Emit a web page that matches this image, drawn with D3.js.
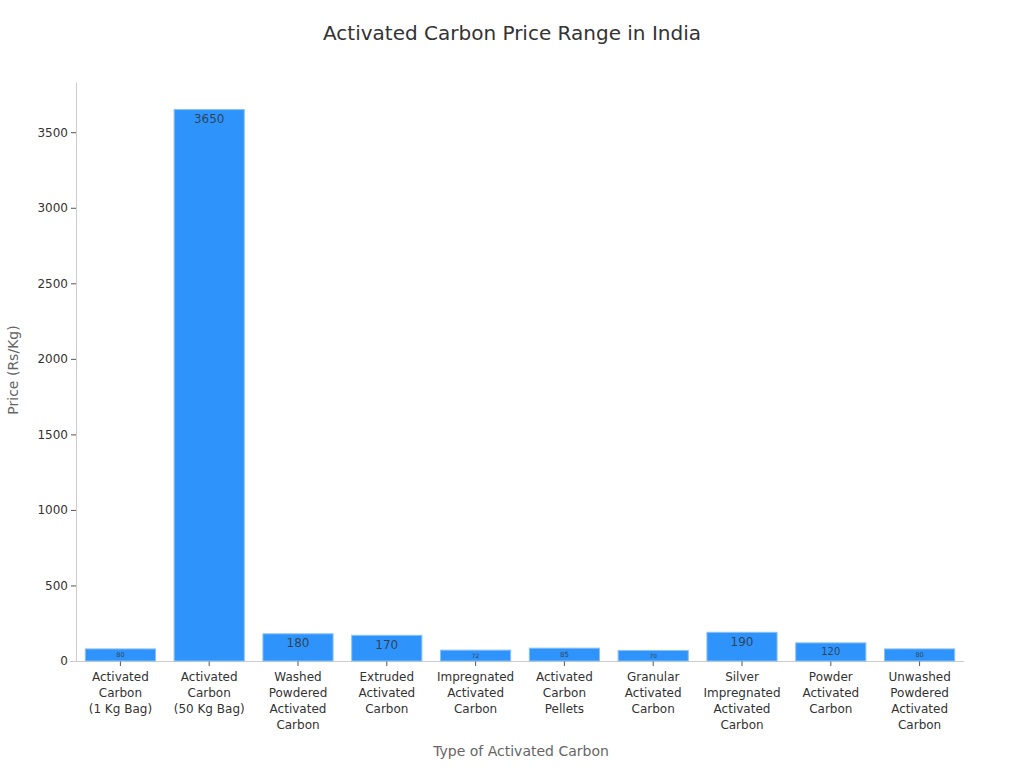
<!DOCTYPE html>
<html><head><meta charset="utf-8">
<script src="https://cdn.jsdelivr.net/npm/d3@7"></script>
<style>body{margin:0;background:#fff;font-family:"DejaVu Sans",sans-serif;}</style>
</head><body>
<svg id="c" width="1024" height="768"></svg>
<script>
const categories = ["Activated Carbon (1 Kg Bag)","Activated Carbon (50 Kg Bag)","Washed Powdered Activated Carbon","Extruded Activated Carbon","Impregnated Activated Carbon","Activated Carbon Pellets","Granular Activated Carbon","Silver Impregnated Activated Carbon","Powder Activated Carbon","Unwashed Powdered Activated Carbon"];
const labelLines = [["Activated","Carbon","(1 Kg Bag)"],["Activated","Carbon","(50 Kg Bag)"],["Washed","Powdered","Activated","Carbon"],["Extruded","Activated","Carbon"],["Impregnated","Activated","Carbon"],["Activated","Carbon","Pellets"],["Granular","Activated","Carbon"],["Silver","Impregnated","Activated","Carbon"],["Powder","Activated","Carbon"],["Unwashed","Powdered","Activated","Carbon"]];
const prices = [80,3650,180,170,72,85,70,190,120,80];
const yTicks = [0,500,1000,1500,2000,2500,3000,3500];

const svg = d3.select("#c");
const m = {l:76, r:60, t:82, b:107};
const W = 1024, H = 768;
const x = d3.scaleBand().domain(categories).range([m.l, W-m.r]).paddingInner(0.21).paddingOuter(0.105);
const y = d3.scaleLinear().domain([0, 3650*1.05]).range([H-m.b, m.t]);

svg.append("text").attr("x",512).attr("y",40).attr("text-anchor","middle")
  .attr("font-size",20).attr("fill","#333").text("Activated Carbon Price Range in India");

// y axis
const ya = svg.append("g").attr("transform",`translate(${m.l},0)`)
  .call(d3.axisLeft(y).tickValues(yTicks).tickFormat(d3.format("d")).tickSize(5).tickSizeOuter(0).tickPadding(3));
ya.select(".domain").attr("stroke","#ccc");
ya.selectAll(".tick line").attr("stroke","#555");
ya.selectAll(".tick text").attr("font-size",12).attr("fill","#333").attr("font-family","DejaVu Sans");

// x axis
const xa = svg.append("g").attr("transform",`translate(0,${H-m.b})`)
  .call(d3.axisBottom(x).tickSize(5).tickSizeOuter(0).tickFormat(""));
xa.select(".domain").attr("stroke","#ccc").attr("d",`M${m.l-6},0.5H${W-m.r}`);
xa.selectAll(".tick line").attr("stroke","#555");
xa.selectAll(".tick").each(function(d,i){
  const t = d3.select(this).append("text").attr("fill","#333").attr("font-size",12)
    .attr("text-anchor","middle").attr("font-family","DejaVu Sans");
  labelLines[i].forEach((s,j)=>t.append("tspan").attr("x",0).attr("y",20+j*16).text(s));
});

// bars
svg.append("g").selectAll("rect").data(prices).join("rect")
  .attr("x",(d,i)=>x(categories[i])).attr("width",x.bandwidth())
  .attr("y",d=>y(d)).attr("height",d=>y(0)-y(d))
  .attr("fill","#2e93fa").attr("stroke","#8cc0f5").attr("stroke-width",1);

svg.append("g").selectAll("text").data(prices).join("text")
  .attr("x",(d,i)=>x(categories[i])+x.bandwidth()/2)
  .attr("y",d=>{const h=y(0)-y(d); return y(d)+Math.min(9.5,h/2);})
  .attr("dominant-baseline","central").attr("text-anchor","middle")
  .attr("font-size",d=>{const h=y(0)-y(d); return Math.min(12,h*0.55);})
  .attr("fill","#333").attr("fill-opacity",0.85).text(d=>d);

svg.append("text").attr("x",521).attr("y",756).attr("text-anchor","middle")
  .attr("font-size",14).attr("fill","#666").text("Type of Activated Carbon");
svg.append("text").attr("transform","translate(18,370) rotate(-90)").attr("text-anchor","middle")
  .attr("font-size",14).attr("fill","#666").text("Price (Rs/Kg)");
</script>
</body></html>
